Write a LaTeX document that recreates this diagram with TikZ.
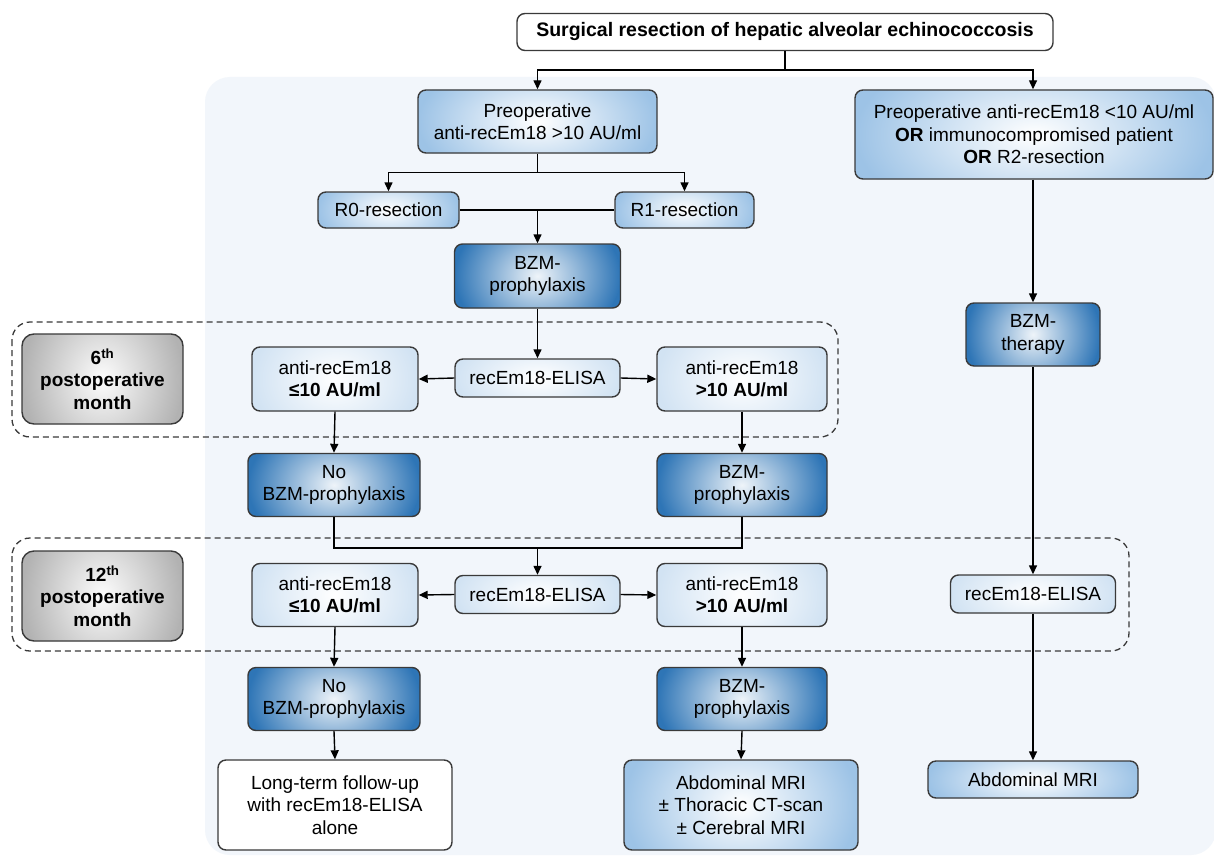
\documentclass[tikz,border=0pt]{standalone}
\usepackage{fontspec}
\setmainfont{Liberation Sans}
\usetikzlibrary{arrows.meta,calc}
\definecolor{panel}{HTML}{F2F6FB}
\definecolor{lb}{HTML}{9DC3E6}
\definecolor{db}{HTML}{2E75B6}
\definecolor{vlb}{HTML}{D2E3F3}
\definecolor{gr}{HTML}{B2B2B2}
\definecolor{bord}{HTML}{3A3A3A}
\tikzset{
 box/.style={draw=bord, line width=1.4pt, rounded corners=8pt, align=center, inner sep=2pt, font=\fontsize{19}{22.5}\selectfont},
 eshade/.style 2 args={path picture={
   \shade[inner color=#1, outer color=#2]
     let \p1=(path picture bounding box.south west), \p2=(path picture bounding box.north east),
         \n1={abs(\x2-\x1)/2}, \n2={abs(\y2-\y1)/2}
     in (path picture bounding box.center) ellipse [x radius=\n1, y radius={2.1*\n2}];}},
 lbox/.style={box, fill=lb, eshade={white}{lb}},
 dbox/.style={box, fill=db, eshade={white!92!db}{db}},
 vbox/.style={box, fill=vlb, eshade={white}{vlb}},
 gbox/.style={box, fill=gr, eshade={white!97!gr}{gr}, rounded corners=12pt, font=\fontsize{19}{22.5}\selectfont\bfseries},
 wbox/.style={box, fill=white},
 arr/.style={line width=1.4pt, -{Triangle[length=9pt,width=8pt]}},
 ln/.style={line width=1.4pt},
 dashbox/.style={draw=bord, line width=1.3pt, dash pattern=on 6pt off 4pt, rounded corners=18pt},
 sz/.style 2 args={minimum width=#1pt, minimum height=#2pt}
}
\begin{document}
\begin{tikzpicture}[x=1pt,y=-1pt]
\fill[white] (0,0) rectangle (1214,856);
\useasboundingbox (0,0) rectangle (1214,856);
\fill[panel, rounded corners=25pt] (205,77) rectangle (1216,855);

% dashed groups
\draw[dashbox] (12,322) rectangle (838,437);
\draw[dashbox] (12,538) rectangle (1129,651);

% nodes
\node[wbox, sz={536}{37}, font=\fontsize{19.5}{22.5}\selectfont\bfseries] (title) at (785,32) {Surgical resection of hepatic alveolar echinococcosis};
\node[lbox, sz={239}{63}] (preop) at (537.5,121.5) {Preoperative\\anti-recEm18 >10 AU/ml};
\node[lbox, sz={358}{89}] (rt) at (1034,134.5) {Preoperative anti-recEm18 <10 AU/ml\\\textbf{OR} immunocompromised patient\\\textbf{OR} R2-resection};
\node[lbox, sz={141}{36}] (r0) at (388.5,210) {R0-resection};
\node[lbox, sz={139}{36}] (r1) at (684.5,210) {R1-resection};
\node[dbox, sz={166}{64}] (bzm1) at (537.5,276) {BZM-\\prophylaxis};

\node[gbox, sz={161}{90}] (m6) at (102.5,379) {6\textsuperscript{th}\\postoperative\\month};
\node[vbox, sz={166}{64}] (lo1) at (335,379) {anti-recEm18\\\textbf{≤10 AU/ml}};
\node[vbox, sz={165}{38}] (elisa1) at (537.5,378) {recEm18-ELISA};
\node[vbox, sz={170}{64}] (hi1) at (742,379) {anti-recEm18\\\textbf{>10 AU/ml}};

\node[dbox, sz={172}{63}] (no1) at (334,485) {No\\BZM-prophylaxis};
\node[dbox, sz={170}{63}] (bzm2) at (742,485) {BZM-\\prophylaxis};

\node[dbox, sz={134}{63}] (ther) at (1033,334.5) {BZM-\\therapy};

\node[gbox, sz={161}{90}] (m12) at (102.5,596) {12\textsuperscript{th}\\postoperative\\month};
\node[vbox, sz={166}{63}] (lo2) at (335,595) {anti-recEm18\\\textbf{≤10 AU/ml}};
\node[vbox, sz={165}{38}] (elisa2) at (537.5,594.5) {recEm18-ELISA};
\node[vbox, sz={170}{63}] (hi2) at (742,595) {anti-recEm18\\\textbf{>10 AU/ml}};
\node[vbox, sz={165}{38}] (elisaR) at (1033,594) {recEm18-ELISA};

\node[dbox, sz={172}{63}] (no3) at (334,699) {No\\BZM-prophylaxis};
\node[dbox, sz={170}{63}] (bzm3) at (742,699) {BZM-\\prophylaxis};

\node[wbox, sz={234}{90}] (long) at (335,805) {Long-term follow-up\\with recEm18-ELISA\\alone};
\node[lbox, sz={234}{90}] (mri) at (741,805) {Abdominal MRI\\± Thoracic CT-scan\\± Cerebral MRI};
\node[lbox, sz={210}{37}] (mriR) at (1033,779.5) {Abdominal MRI};

\coordinate (mj) at (537.5,548);

% connectors
\draw[ln] (title.south) -- ++(0,19) coordinate (tj);
\draw[arr] (tj) -| (preop.north);
\draw[arr] (tj) -| (ther.north |- rt.north);
\draw[ln] (preop.south) -- ++(0,19) coordinate (pj);
\draw[arr] (pj) -| (r0.north);
\draw[arr] (pj) -| (r1.north);
\draw[ln] (r0.east) -- (r1.west);
\draw[arr] (r0.east -| bzm1.north) -- (bzm1.north);
\draw[arr] (bzm1.south) -- (elisa1.north);
\draw[arr] (elisa1.west) -- (lo1.east);
\draw[arr] (elisa1.east) -- (hi1.west);
\draw[arr] (lo1.south) -- (no1.north);
\draw[arr] (hi1.south) -- (bzm2.north);
\draw[ln] (no1.south) |- (mj) -| (bzm2.south);
\draw[arr] (mj) -- (elisa2.north);
\draw[arr] (elisa2.west) -- (lo2.east);
\draw[arr] (elisa2.east) -- (hi2.west);
\draw[arr] (lo2.south) -- (no3.north);
\draw[arr] (hi2.south) -- (bzm3.north);
\draw[arr] (no3.south) -- (long.north);
\draw[arr] (bzm3.south) -- (mri.north);
\draw[arr] (ther.north |- rt.south) -- (ther.north);
\draw[arr] (ther.south) -- (elisaR.north);
\draw[arr] (elisaR.south) -- (mriR.north);
\end{tikzpicture}
\end{document}
